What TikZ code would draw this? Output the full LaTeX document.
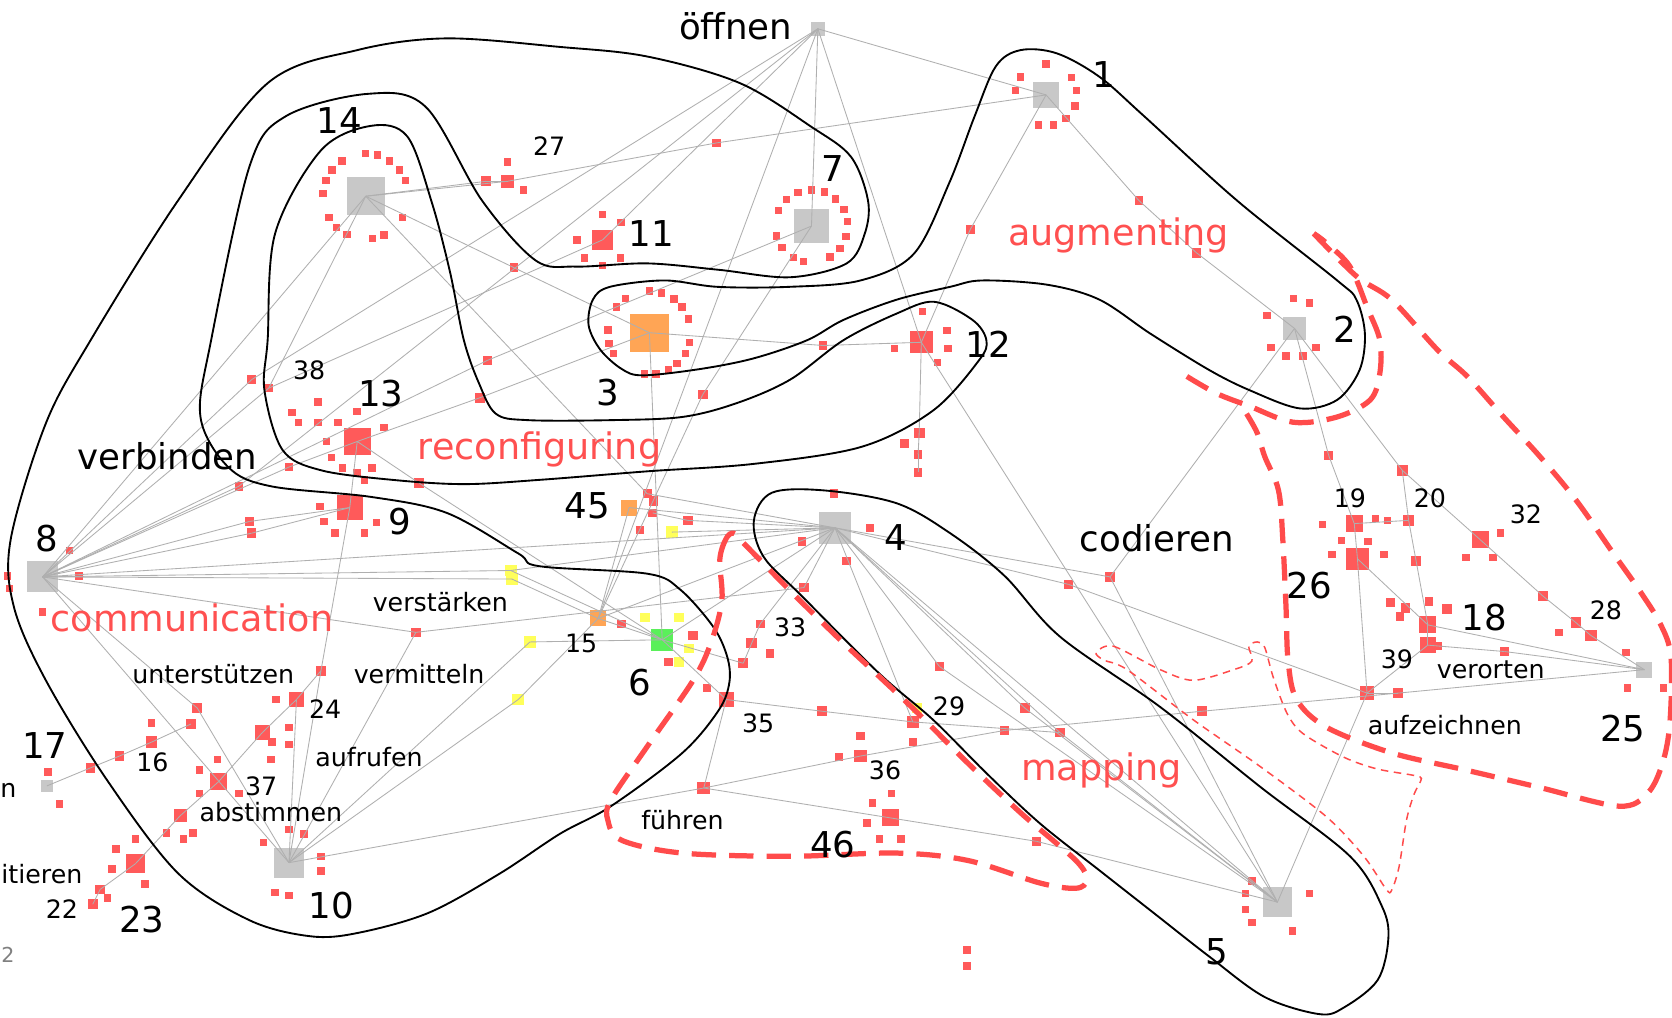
\documentclass[tikz,border=0pt]{standalone}
\usepackage{fontspec}
\setmainfont{DejaVu Sans}
\usetikzlibrary{calc}
\definecolor{redn}{RGB}{255,90,90}
\definecolor{redt}{RGB}{255,80,80}
\definecolor{grayn}{RGB}{200,200,200}
\definecolor{orangen}{RGB}{255,165,85}
\definecolor{greenn}{RGB}{90,240,90}
\definecolor{yellown}{RGB}{255,255,90}
\definecolor{edgec}{RGB}{175,175,175}
\definecolor{dashred}{RGB}{255,75,75}
\newcommand{\ringof}[3]{\foreach \ang in {#3}{\node[sat] (#1-s\ang) at ($(#1)+(\ang:#2)$) {};}}
\begin{document}
\begin{tikzpicture}[x=0.02cm,y=-0.02cm,
  sqn/.style={rectangle,inner sep=0pt,minimum size=#1*0.02cm,draw=none},
  rsq/.style={sqn=#1,fill=redn},
  gsq/.style={sqn=#1,fill=grayn},
  osq/.style={sqn=#1,fill=orangen},
  grsq/.style={sqn=#1,fill=greenn},
  ysq/.style={sqn=#1,fill=yellown},
  sat/.style={sqn=7,fill=redn},
  lnk/.style={draw=edgec,line width=0.45pt},
  hullc/.style={draw=black,line width=1.0pt},
  dhull/.style={draw=dashred,line width=2.8pt,dash pattern=on 13pt off 7pt},
  thindash/.style={draw=dashred,line width=0.8pt,dash pattern=on 4pt off 3pt},
  bigl/.style={font=\fontsize{19}{22}\selectfont,inner sep=0pt},
  smll/.style={font=\fontsize{13.5}{16}\selectfont,inner sep=0pt},
  catl/.style={font=\fontsize{19.5}{22}\selectfont,text=redt,inner sep=0pt,anchor=base}]
\useasboundingbox (0,0) rectangle (1568,954);
\fill[white] (0,0) rectangle (1568,954);

% ---------------- main nodes
\node[gsq=13] (nO) at (767,27) {};
\node[gsq=24] (n1) at (981,89) {};
\node[gsq=32] (n7) at (761,212) {};
\node[gsq=36] (n14) at (343,184) {};
\node[gsq=22] (n2) at (1214,308) {};
\node[gsq=30] (n4) at (783,495) {};
\node[gsq=28] (n5) at (1198,846) {};
\node[gsq=28] (n10) at (271,809) {};
\node[gsq=29] (n8) at (40,541) {};
\node[gsq=11] (n17) at (44,737) {};
\node[gsq=15] (n25) at (1542,628) {};
\node[osq=36] (n3) at (609,312) {};
\node[osq=15] (n45) at (590,476) {};
\node[osq=15] (n15) at (561,580) {};
\node[grsq=21] (n6) at (621,600) {};
\node[rsq=19] (n11) at (565,225) {};
\node[rsq=21] (n12) at (864,321) {};
\node[rsq=25] (n13) at (335,414) {};
\node[rsq=24] (n9) at (328,476) {};
\node[rsq=16] (n19) at (1270,491) {};
\node[rsq=10] (n20) at (1321,488) {};
\node[rsq=21] (n26) at (1273,524) {};
\node[rsq=16] (n32) at (1388,506) {};
\node[rsq=16] (n18) at (1339,586) {};
\node[rsq=15] (n39) at (1339,605) {};
\node[rsq=11] (n28) at (1492,596) {};
\node[rsq=14] (n35) at (681,656) {};
\node[rsq=11] (n29) at (856,677) {};
\node[rsq=12] (n36) at (807,709) {};
\node[rsq=16] (n46) at (835,767) {};
\node[rsq=11] (n16) at (142,696) {};
\node[rsq=16] (n37) at (205,733) {};
\node[rsq=18] (n23) at (127,810) {};
\node[rsq=14] (n24) at (278,656) {};

% ---------------- small red nodes on lines
\foreach \nm/\px/\py/\s in {r456/456/170/9, r476/476/170/12, r672/672/134/8, r483/482/251/8,
  r909/910/215/8, r1068/1068/188/8, r1122/1122/237/9, r659/659/370/9, r772/772/324/8,
  r862a/862/406/10, r848/848/416/8, r861b/861/426/8, r861c/861/443/8, r237/236/356/9,
  r252/252/364/8, r458/457/338/8, r450/450/373/9, r224/224/456/8, r234a/234/489/9,
  r234b/236/500/9, r272/271/438/8, r393/393/453/9, r390/390/593/9, r300/301/629/9,
  r607/607/463/8, r613/613/470/9, r612/612/481/8, r600/600/497/7, r645/645/488/9,
  r785/782/463/8, r752/752/508/8, r754/754/551/9, r1001/1002/548/9, rcod/1041/541/9,
  r583/583/585/8, r650/650/596/9, r627/627/621/8, r697/697/622/9, r713/713/585/8,
  r705/705/603/10, r722/722/613/8, r880/881/625/9, r663/663/645/8, r771b/771/667/9,
  r856/856/696/8, r807/807/690/8, r787/787/710/7, rfuhren/660/739/12, r942/942/685/9,
  r961/961/664/9, r994/994/687/9, r972/972/789/9, r907a/907/891/7, r907b/907/906/7,
  r1246/1246/427/9, r1314/1315/441/10, r1447/1447/559/9, r1478/1478/584/10,
  r1411/1411/611/9, rauf/1282/650/13, r1311/1311/650/9, r1128/1127/667/9,
  r185/185/664/9, r179/179/679/10, r85/85/720/9, r112/112/709/9, r246/246/687/14,
  r169/169/765/12, r94/94/834/9, r87/87/848/9, r1304/1304/565/9, r1318/1318/570/9,
  r1313/1313/578/8, r1340/1340/564/8, r1357/1357/571/9, r1328/1328/526/9,
  r816/816/495/8, r752b/752/508/7, r794/794/526/8}
  {\node[rsq=\s] (\nm) at (\px,\py) {};}

% yellow nodes
\foreach \nm/\px/\py/\s in {y480a/479/535/11, y480b/480/543/11, y496/497/602/11,
  y485/486/656/11, y630/630/499/11, y605/605/579/9, y637/637/579/9, y646/646/608/9,
  y637b/637/621/9, y29/860/664/10}
  {\node[ysq=\s] (\nm) at (\px,\py) {};}

% satellite rings
\ringof{n14}{40}{30,65,81,116,133,150,184,202,218,236,270,286,304,322,338}
\ringof{n7}{34}{17,38,59,103,120,144,164,205,227,248,270,291,312,333,353}
\ringof{n3}{39}{14,30,48,63,81,97,150,165,184,218,235,270,287,306,322,341}
\ringof{n1}{29}{21,50,76,104,188,215,270,326,352}
\ringof{n11}{24}{45,90,135,180,270,317}
\foreach \dx/\dy [count=\i] in {-37/-37,0/-28,-55/-18,-37/-18,-18/-18,25/-13,-29/0,-24/15,-14/25,0/29,14/25,7/36,-61/-27}
  {\node[sat] (n13-o\i) at ($(n13)+(\dx,\dy)$) {};}
\foreach \dx/\dy [count=\i] in {-28/-1,-24/13,-14/24,14/24,25/14}
  {\node[sat] (n9-o\i) at ($(n9)+(\dx,\dy)$) {};}
\foreach \px/\py [count=\i] in {65/516,74/540,7/540,9/552,40/574,
  839/327,889/327,879/340,865/292,888/310,
  1192/326,1206/334,1222/334,1234/326,1213/280,1228/284,1188/296,
  1174/826,1168/838,1168/853,1174/865,1212/873,1228/838,
  271/778,285/782,247/790,301/803,301/817,258/837,271/840,
  45/724,56/754,142/678,204/712,187/722,187/744,224/744,
  156/781,181/781,172/787,127/787,109/796,105/815,136/829,101/842,
  259/656,271/682,271/698,255/696,254/712,
  1240/492,1290/486,1301/488,1258/507,1283/508,1249/520,1298/520,
  1407/500,1375/523,1400/523,1462/593,1525/612,1349/606,
  836/744,818/753,813/772,825/787,845/787,
  1526/645,1560/645,476/152,491/178,782/463,600/497}
  {\node[sat] (sA\i) at (\px,\py) {};}

% ---------------- connectors
\foreach \a/\b in {nO/n1,nO/n7,nO/n12,nO/n15,nO/r237,nO/n11,nO/r224,
  r237/n8,r224/n8,
  n14/r456,r456/r476,r476/r672,r672/n1,n14/r476,
  n14/r483,r483/n3,n14/r607,n14/n8,n14/r252,r252/n8,n11/r252,
  n8/r458,r458/n7,
  n13/r450,r450/n3,n13/r393,r393/n6,n8/r272,r272/n13,n9/n13,
  n9/r234a,r234a/n8,n9/r234b,r234b/n8,n9/r300,r300/n10,
  n8/y480a,n8/y480b,y480a/n4,y480b/n15,y480a/n6,n8/n4,n8/r390,r390/r754,r754/n4,
  n8/n10,n8/r185,r185/n10,
  n10/n24,n10/r390,n10/y485,y485/n15,n10/y496,y496/n6,n10/rfuhren,rfuhren/n36,
  n24/r246,r246/n37,n37/r169,r169/n23,n24/r300,
  n17/r85,r85/r112,r112/n16,n16/r179,
  n23/r94,r94/r87,
  n3/r772,r772/n12,n3/n6,n7/r659,r659/n15,
  n45/n4,r607/n4,r612/r645,r645/n4,y630/n4,n45/n15,n15/n6,n15/n4,n6/n4,
  n4/r713,r713/r705,r705/r697,r697/n6,n6/n35,
  n4/n5,n4/r961,r961/n5,n4/r994,r994/n5,n4/r880,r880/n5,n4/r1001,r1001/rauf,n4/rcod,
  rcod/n2,rcod/n5,n12/n5,
  n12/r862a,r862a/r861b,r861b/r861c,
  n1/r909,r909/n12,n1/r1068,r1068/r1122,r1122/n2,
  n35/r771b,r771b/n29,n29/r994,n35/rfuhren,n29/n4,
  rfuhren/n46,n46/r972,r972/n5,
  n25/r1311,r1311/r1128,r1128/r942,r942/n36,
  n2/r1246,r1246/n19,n19/n26,n2/r1314,r1314/n32,n32/r1447,r1447/r1478,r1478/n28,n28/n25,
  r1314/n20,n20/r1328,r1328/n18,n19/n20,n26/n18,n26/rauf,rauf/n5,n18/n25,n18/n39,
  n39/r1411,r1411/n25,n39/rauf,rauf/r1311}
  {\draw[lnk] (\a.center) -- (\b.center);}

% ---------------- black hulls
% communication
\draw[hullc] plot[smooth cycle,tension=0.55] coordinates {
 (10,506) (13,569) (43,638) (100,731) (167,819) (234,863) (291,878) (335,875) (402,856)
 (469,819) (525,782) (573,756) (640,706) (674,666) (684,640) (682,616) (669,588) (638,553)
 (607,538) (506,531) (486,519) (419,481) (348,466) (254,456) (214,438) (188,391) (198,319)
 (234,156) (268,109) (345,88) (399,100) (452,188) (502,244) (540,250) (607,247) (674,253)
 (741,260) (794,247) (811,219) (814,188) (798,147) (761,119) (694,78) (607,53) (525,44)
 (418,36) (335,47) (251,78) (167,188) (85,319) (43,397)};
% reconfiguring
\draw[hullc] plot[smooth cycle,tension=0.55] coordinates {
 (251,319) (258,219) (301,141) (348,118) (382,128) (405,190) (422,255) (435,319) (449,359)
 (465,388) (495,394) (573,394) (640,391) (691,378) (741,356) (791,319) (841,294) (876,283)
 (912,300) (925,319) (918,338) (875,385) (808,419) (707,435) (607,442) (506,450) (435,454)
 (368,450) (301,441) (265,422) (248,366)};
% augmenting
\draw[hullc] plot[smooth cycle,tension=0.55] coordinates {
 (552,305) (556,281) (572,269) (623,263) (673,269) (740,269) (807,263) (857,238) (890,172)
 (914,109) (934,62) (957,47) (991,50) (1031,72) (1073,109) (1160,188) (1254,263) (1272,281)
 (1280,313) (1275,347) (1254,375) (1219,383) (1172,366) (1134,347) (1079,313) (1031,281)
 (982,267) (921,263) (891,269) (841,281) (791,300) (757,319) (707,336) (657,346) (603,352)
 (583,346) (563,328)};
% mapping
\draw[hullc] plot[smooth cycle,tension=0.55] coordinates {
 (707,488) (724,462) (774,460) (841,472) (891,500) (942,540) (994,597) (1088,663) (1182,738)
 (1266,803) (1296,850) (1302,880) (1292,919) (1260,945) (1237,951) (1186,935) (1134,897)
 (1083,857) (1032,817) (975,772) (925,725) (875,675) (825,632) (753,560) (716,522)};

% ---------------- red dashed hulls
\draw[dhull] plot[smooth cycle,tension=0.55] coordinates {
 (688,500) (681,505) (675,525) (677,563) (667,602) (650,638) (607,700) (573,750) (570,769)
 (583,788) (640,800) (741,803) (841,800) (908,807) (975,828) (1009,833) (1019,825)
 (1009,807) (958,763) (908,716) (861,669) (822,632) (791,603) (747,560) (696,508)};
\draw[dhull] plot[smooth,tension=0.55] coordinates {
 (1113,353) (1141,369) (1172,381) (1213,396) (1254,391) (1285,375) (1294,350) (1294,319)
 (1282,288) (1266,250) (1244,228) (1232,219)};
\draw[dhull] plot[smooth,tension=0.55] coordinates {
 (1232,219) (1272,259) (1305,281) (1348,328) (1376,353) (1410,391) (1444,428) (1478,469)
 (1513,519) (1537,553) (1557,585) (1567,616) (1566,678) (1559,716) (1545,744) (1518,756)
 (1442,738) (1374,722) (1305,706) (1244,682) (1216,656) (1208,620) (1206,569) (1203,506)
 (1199,460) (1186,428) (1179,406) (1169,388)};
\draw[thindash] plot[smooth cycle,tension=0.5] coordinates {
 (1028,612) (1044,606) (1088,628) (1119,638) (1157,628) (1174,620) (1171,606) (1179,602)
 (1186,607) (1194,635) (1207,669) (1222,688) (1260,710) (1291,721) (1325,727) (1333,730)
 (1326,745) (1319,769) (1312,813) (1305,835) (1300,834) (1279,803) (1244,766) (1182,719)
 (1119,675) (1057,628) (1035,619)};

% ---------------- labels
\foreach \nm/\px/\py/\t in {Loe/690/25/öffnen, L1/1035/70/1, L7/781/158/7, L11/611/219/11,
  L14/318/113/14, L3/570/368/3, L12/927/323/12, L2/1261/309/2, L13/357/369/13, L9/375/489/9,
  L8/44/505/8, L45/551/474/45, L4/840/504/4, L6/600/640/6, L5/1141/893/5, L10/311/849/10,
  L17/42/699/17, L23/133/862/23, L26/1228/549/26, L18/1392/579/18, L25/1522/683/25,
  L46/781/792/46, Lverb/157/428/verbinden, Lcod/1085/505/codieren}
  {\node[bigl] (\nm) at (\px,\py) {\t};}
\foreach \nm/\px/\py/\t in {L27/515/137/27, L38/290/347/38, L15/545/603/15, L33/741/588/33,
  L35/711/678/35, L29/890/662/29, L36/830/722/36, L19/1266/467/19, L20/1341/467/20,
  L32/1431/482/32, L28/1506/572/28, L39/1310/618/39, L16/143/715/16, L24/305/665/24,
  L37/245/737/37, L22/58/853/22, Lverst/413/565/verstärken, Lunter/200/632/unterstützen,
  Lverm/393/632/vermitteln, Lauf/346/710/aufrufen, Labst/254/762/abstimmen,
  Lfuhr/640/769/führen, Lvero/1398/628/verorten, Laufz/1355/680/aufzeichnen}
  {\node[smll] (\nm) at (\px,\py) {\t};}
\node[smll,anchor=west] (Lzit) at (1,820) {itieren};
\node[smll,anchor=west] (Ln) at (0,741) {n};
\node[font=\fontsize{11}{13}\selectfont,inner sep=0pt,anchor=west,text=gray] (Lgr) at (1,895) {2};
\node[catl] (Laug) at (1049,230) {augmenting};
\node[catl] (Lrec) at (506,431) {reconfiguring};
\node[catl] (Lcom) at (180,592) {communication};
\node[catl] (Lmap) at (1033,732) {mapping};
\end{tikzpicture}
\end{document}
